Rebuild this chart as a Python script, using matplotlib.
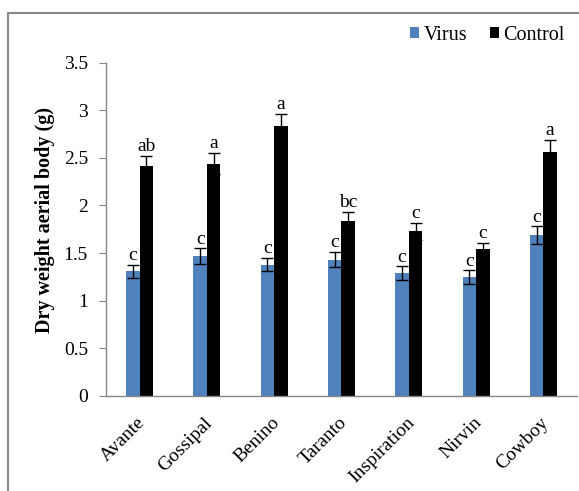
import matplotlib
matplotlib.use("Agg")
import matplotlib.pyplot as plt
from matplotlib.patches import Rectangle
from matplotlib.transforms import ScaledTranslation
import numpy as np

plt.rcParams['font.family'] = ['Liberation Serif', 'DejaVu Serif']

cultivars = ["Avante", "Gossipal", "Benino", "Taranto", "Inspiration", "Nirvin", "Cowboy"]
virus = [1.31, 1.47, 1.38, 1.43, 1.29, 1.25, 1.69]
virus_err = [0.07, 0.08, 0.07, 0.08, 0.07, 0.07, 0.09]
control = [2.41, 2.44, 2.83, 1.84, 1.73, 1.54, 2.56]
control_err = [0.11, 0.11, 0.13, 0.09, 0.09, 0.07, 0.13]
virus_letters = ["c", "c", "c", "c", "c", "c", "c"]
control_letters = ["ab", "a", "a", "bc", "c", "c", "a"]
yticks = [0, 0.5, 1, 1.5, 2, 2.5, 3, 3.5]
ytick_labels = ["0", "0.5", "1", "1.5", "2", "2.5", "3", "3.5"]

blue = "#4F81BD"
axis_gray = "#868686"

fig = plt.figure(figsize=(5.79, 4.91), dpi=100)
ax = fig.add_axes([0.1831, 0.1935, 0.8134, 0.679])

x = np.arange(len(cultivars))
w = 0.2
ax.bar(x - w / 2, virus, w, color=blue, label="Virus", zorder=2)
ax.bar(x + w / 2, control, w, color="black", label="Control", zorder=2)
ax.errorbar(x - w / 2, virus, yerr=virus_err, fmt="none", ecolor="black",
            elinewidth=1, capsize=4, capthick=1, zorder=3)
ax.errorbar(x + w / 2, control, yerr=control_err, fmt="none", ecolor="black",
            elinewidth=1, capsize=4, capthick=1, zorder=1.5)

for xi, v, e, t in zip(x - w / 2, virus, virus_err, virus_letters):
    ax.annotate(t, (xi, v + e), xytext=(0, 0.5), textcoords="offset points",
                ha="center", va="bottom", fontsize=14)
for xi, v, e, t in zip(x + w / 2, control, control_err, control_letters):
    ax.annotate(t, (xi, v + e), xytext=(0, 0.5), textcoords="offset points",
                ha="center", va="bottom", fontsize=14)

ax.set_xlim(-0.5, len(cultivars) - 0.5)
ax.set_ylim(0, 3.5)
ax.set_yticks(yticks)
ax.set_yticklabels(ytick_labels, fontsize=14)
ax.set_xticks(x)
ax.set_xticklabels(cultivars, rotation=45, ha="right", rotation_mode="anchor",
                   fontsize=14)
ax.tick_params(axis="x", length=0, pad=13)
ax.tick_params(axis="y", length=5, color=axis_gray, pad=8)
shift = ScaledTranslation(-3 / 100, 0, fig.dpi_scale_trans)
for lbl in ax.get_xticklabels():
    lbl.set_transform(lbl.get_transform() + shift)
for s in ["top", "right"]:
    ax.spines[s].set_visible(False)
for s in ["left", "bottom"]:
    ax.spines[s].set_color(axis_gray)
    ax.spines[s].set_linewidth(1)

ax.set_ylabel("Dry weight aerial body (g)", fontsize=14.5, fontweight="bold")
ax.yaxis.set_label_coords(-0.108, 0.527)

leg = fig.legend(*ax.get_legend_handles_labels(), loc="center right",
                 bbox_to_anchor=(565 / 579, 1 - 35 / 491), ncol=2, frameon=False,
                 fontsize=14.5, handlelength=0.45, handleheight=0.45, handletextpad=0.25,
                 columnspacing=1.1, borderpad=0, borderaxespad=0)

# outer chart border
fig.add_artist(Rectangle((0.0135, -0.2), 1.2, 1.174, transform=fig.transFigure,
                         fill=False, edgecolor="#8a8a8a", linewidth=1.5))

fig.savefig("out.png", dpi=100)
